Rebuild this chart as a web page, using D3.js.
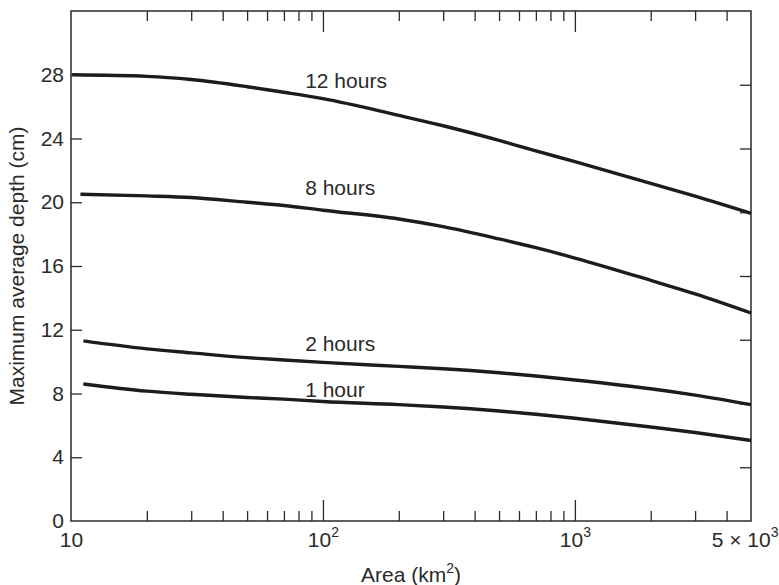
<!DOCTYPE html>
<html>
<head>
<meta charset="utf-8">
<script src="https://cdn.jsdelivr.net/npm/d3@7"></script>
<style>
  body { margin: 0; background: #fff; }
  svg { display: block; font-family: "Liberation Sans", Arial, Helvetica, sans-serif; }
</style>
</head>
<body>
<svg id="chart"></svg>
<script>
// area values (km^2) where depths were read
const area = [10, 20, 30, 50, 70, 100, 200, 300, 500, 700, 1000, 2000, 3000, 5000];

// maximum average depth (cm) per storm duration
const depth12h = [28.0, 27.9, 27.7, 27.25, 26.9, 26.5, 25.45, 24.8, 23.88, 23.22, 22.55, 21.18, 20.38, 19.3];
const depth8h  = [20.5, 20.4, 20.3, 20.0, 19.8, 19.5, 18.95, 18.47, 17.7, 17.15, 16.5, 15.1, 14.25, 13.05];
const depth2h  = [11.3, 10.8, 10.55, 10.25, 10.1, 9.95, 9.7, 9.55, 9.3, 9.1, 8.85, 8.3, 7.9, 7.3];
const depth1h  = [8.6, 8.15, 7.95, 7.75, 7.65, 7.5, 7.3, 7.15, 6.9, 6.7, 6.45, 5.9, 5.55, 5.05];

// first area on each curve (curves for shorter storms start a little right of the axis)
const startArea = [10.1, 10.9, 11.2, 11.2];
const curveNames = ['12 hours', '8 hours', '2 hours', '1 hour'];
const labelAt = [[85, 27.2], [85, 20.45], [85, 10.65], [85, 7.8]];

const yTicks = [0, 4, 8, 12, 16, 20, 24, 28];
const xMinor = [20, 30, 40, 50, 60, 70, 80, 90, 200, 300, 400, 500, 600, 700, 800, 900, 2000, 3000, 4000];
const xMajor = [100, 1000];
const xLabels = [10, 100, 1000, 5000];
const xLabelBase = ['10', '10', '10', '5 \u00d7 10'];
const xLabelExp = ['', '2', '3', '3'];

const W = 779, H = 585;
const margin = { top: 11, right: 28, bottom: 64, left: 71 };
const width = W - margin.left - margin.right;
const height = H - margin.top - margin.bottom;
const fs = 21;

const svg = d3.select('#chart')
  .attr('width', W)
  .attr('height', H)
  .append('g')
  .attr('transform', `translate(${margin.left},${margin.top})`);

const x = d3.scaleLog().domain([10, 5000]).range([0, width]);
const y = d3.scaleLinear().domain([0, 32]).range([height, 0]);

const ink = '#2a2a2a';

function styleAxis(g) {
  g.select('.domain').remove();
  g.selectAll('.tick line').attr('stroke', ink).attr('stroke-width', 1.3);
}

// bottom ticks (pointing up)
svg.append('g')
  .attr('transform', `translate(0,${height})`)
  .call(d3.axisBottom(x).tickValues(xMinor).tickSize(-10).tickFormat(''))
  .call(styleAxis);
svg.append('g')
  .attr('transform', `translate(0,${height})`)
  .call(d3.axisBottom(x).tickValues(xMajor).tickSize(-21).tickFormat(''))
  .call(styleAxis);

// top ticks (pointing down)
svg.append('g')
  .call(d3.axisTop(x).tickValues(xMinor).tickSize(-10).tickFormat(''))
  .call(styleAxis);
svg.append('g')
  .call(d3.axisTop(x).tickValues(xMajor).tickSize(-21).tickFormat(''))
  .call(styleAxis);

// x labels with superscripts
const xl = svg.append('g')
  .attr('transform', `translate(0,${height})`)
  .call(d3.axisBottom(x).tickValues(xLabels).tickSize(0).tickPadding(0).tickFormat(''));
xl.select('.domain').remove();
xl.selectAll('.tick').each(function (d, i) {
  const last = i === xLabels.length - 1;
  const t = d3.select(this).append('text')
    .attr('x', last ? 27 : 0)
    .attr('y', 26)
    .attr('fill', ink)
    .attr('font-size', fs)
    .attr('text-anchor', last ? 'end' : 'middle');
  t.append('tspan').text(xLabelBase[i]);
  if (xLabelExp[i]) {
    t.append('tspan').attr('dy', -10).attr('font-size', 14).text(xLabelExp[i]);
  }
});

// left axis
const yl = svg.append('g')
  .call(d3.axisLeft(y).tickValues(yTicks).tickSize(-11).tickPadding(7));
yl.call(styleAxis);
yl.selectAll('.tick text').attr('fill', ink).attr('font-size', fs).attr('font-family', null);
yl.selectAll('.tick').filter(d => d === 0).select('line').remove();

// right axis ticks (drawn slightly low, as in the original figure)
svg.append('g')
  .attr('transform', `translate(${width},10)`)
  .call(d3.axisRight(y).tickValues(yTicks.slice(1)).tickSize(-11).tickFormat(''))
  .call(styleAxis);

// frame
svg.append('rect')
  .attr('width', width)
  .attr('height', height)
  .attr('fill', 'none')
  .attr('stroke', ink)
  .attr('stroke-width', 1.5);

// curves
const series = [depth12h, depth8h, depth2h, depth1h];
const line = d3.line()
  .x(d => x(d[0]))
  .y(d => y(d[1]))
  .curve(d3.curveMonotoneX);

series.forEach((vals, i) => {
  const pts = area.map((a, j) => [j === 0 ? startArea[i] : a, vals[j]]);
  svg.append('path')
    .datum(pts)
    .attr('fill', 'none')
    .attr('stroke', '#1c1c1c')
    .attr('stroke-width', 3.4)
    .attr('d', line);
  svg.append('text')
    .attr('x', x(labelAt[i][0]))
    .attr('y', y(labelAt[i][1]))
    .attr('fill', ink)
    .attr('font-size', fs)
    .text(curveNames[i]);
});

// axis titles
const xt = svg.append('text')
  .attr('x', width / 2)
  .attr('y', height + 61)
  .attr('text-anchor', 'middle')
  .attr('fill', ink)
  .attr('font-size', fs);
xt.append('tspan').text('Area (km');
xt.append('tspan').attr('dy', -9).attr('font-size', 14).text('2');
xt.append('tspan').attr('dy', 9).text(')');

svg.append('text')
  .attr('transform', `translate(${-47},${height / 2}) rotate(-90)`)
  .attr('text-anchor', 'middle')
  .attr('fill', ink)
  .attr('font-size', fs)
  .text('Maximum average depth (cm)');
</script>
</body>
</html>
